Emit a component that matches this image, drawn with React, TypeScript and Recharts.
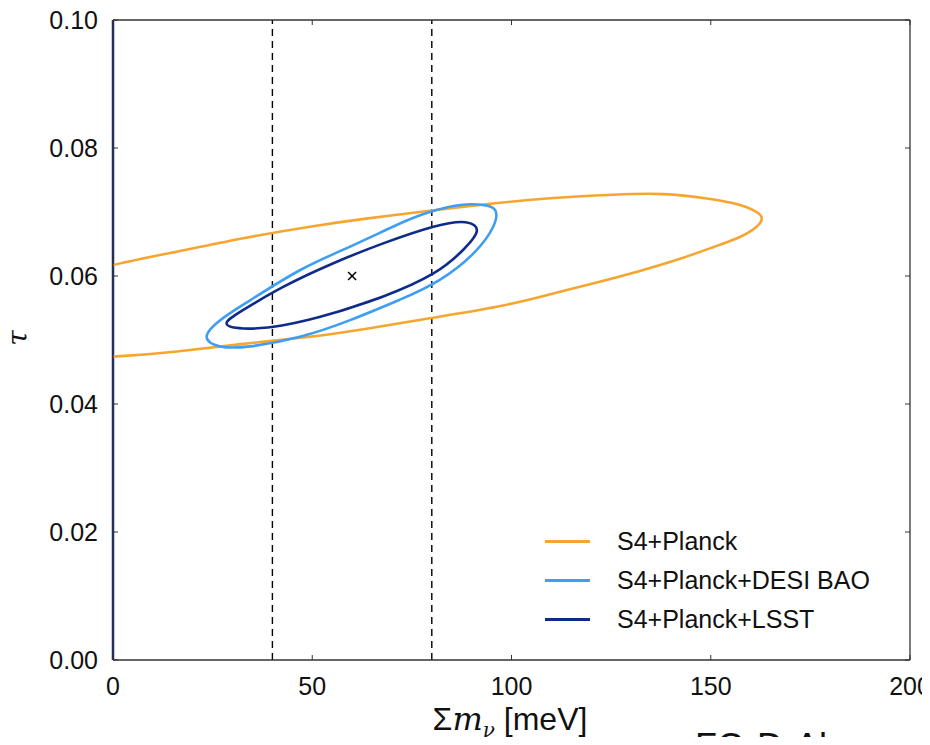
import React from 'react';
import {
    LineChart,
    Line,
    XAxis,
    YAxis,
    Scatter,
    ReferenceLine,
} from 'recharts';

// contour points (x = sum m_nu [meV], y = tau)
// the S4+Planck contour runs past x = 0, the hidden part is clipped by the axis
const S4_PLANCK = [
    { x: -18.1, y: 0.0472 }, { x: -29, y: 0.0479 }, { x: -37.3, y: 0.0489 }, { x: -41.5, y: 0.05 },
    { x: -42.8, y: 0.051 }, { x: -41.5, y: 0.0523 }, { x: -37.3, y: 0.0539 }, { x: -30.6, y: 0.0554 },
    { x: -22.3, y: 0.0573 }, { x: -11, y: 0.0596 }, { x: 0, y: 0.0617 }, { x: 16, y: 0.0638 },
    { x: 32.7, y: 0.0659 }, { x: 49.4, y: 0.0677 }, { x: 64, y: 0.069 }, { x: 79.5, y: 0.0702 },
    { x: 92, y: 0.0711 }, { x: 108.8, y: 0.0721 }, { x: 125.5, y: 0.0727 }, { x: 138.1, y: 0.0728 },
    { x: 149, y: 0.0721 }, { x: 157.3, y: 0.0711 }, { x: 161.5, y: 0.07 }, { x: 162.8, y: 0.069 },
    { x: 161.5, y: 0.0677 }, { x: 157.3, y: 0.0661 }, { x: 150.6, y: 0.0645 }, { x: 142.3, y: 0.0627 },
    { x: 132.2, y: 0.0608 }, { x: 121.4, y: 0.059 }, { x: 108.8, y: 0.057 }, { x: 96.3, y: 0.0552 },
    { x: 79.5, y: 0.0534 }, { x: 64, y: 0.0518 }, { x: 49.4, y: 0.0505 }, { x: 32.7, y: 0.0494 },
    { x: 16, y: 0.0482 }, { x: 0, y: 0.0474 }, { x: -18.1, y: 0.0472 }, { x: -29, y: 0.0479 },
];

const S4_PLANCK_DESI = [
    { x: 59.5, y: 0.0531 }, { x: 72, y: 0.0563 }, { x: 82, y: 0.0594 }, { x: 90.4, y: 0.0635 },
    { x: 95.4, y: 0.0677 }, { x: 95.9, y: 0.0703 }, { x: 92.9, y: 0.0711 }, { x: 87.1, y: 0.0711 },
    { x: 79.5, y: 0.07 }, { x: 72, y: 0.0682 }, { x: 59.5, y: 0.0646 }, { x: 46.9, y: 0.0609 },
    { x: 34.4, y: 0.0562 }, { x: 26.9, y: 0.0531 }, { x: 23.5, y: 0.0505 }, { x: 26.9, y: 0.049 },
    { x: 34.4, y: 0.049 }, { x: 46.9, y: 0.0505 }, { x: 59.5, y: 0.0531 }, { x: 72, y: 0.0563 },
];

const S4_PLANCK_LSST = [
    { x: 55.3, y: 0.0542 }, { x: 67.8, y: 0.0568 }, { x: 80.4, y: 0.0604 }, { x: 87.9, y: 0.0641 },
    { x: 91.3, y: 0.067 }, { x: 88.5, y: 0.0684 }, { x: 80.4, y: 0.0677 }, { x: 67.8, y: 0.0651 },
    { x: 55.3, y: 0.062 }, { x: 42.7, y: 0.0583 }, { x: 32.7, y: 0.0547 }, { x: 28.5, y: 0.0526 },
    { x: 32.7, y: 0.0518 }, { x: 42.7, y: 0.0523 }, { x: 55.3, y: 0.0542 }, { x: 67.8, y: 0.0568 },
];

const FIDUCIAL = [{ x: 60, y: 0.06 }];
const MASS_LINES = [40, 80];
const X_TICKS = [0, 50, 100, 150, 200];
const Y_TICKS = [0, 0.02, 0.04, 0.06, 0.08, 0.1];

const SERIES = [
    { name: 'S4+Planck', data: S4_PLANCK, color: '#F6A630' },
    { name: 'S4+Planck+DESI BAO', data: S4_PLANCK_DESI, color: '#3D9EF2' },
    { name: 'S4+Planck+LSST', data: S4_PLANCK_LSST, color: '#0E2B8A' },
];

const FONT = '"Liberation Sans", Arial, sans-serif';
const tickStyle = { fontSize: 25, fill: '#111', fontFamily: FONT };
const frame = '#333';

const Cross = ({ cx, cy }: any) => (
    <g stroke="#000" strokeWidth={1.5}>
        <line x1={cx - 4} y1={cy - 4} x2={cx + 4} y2={cy + 4} />
        <line x1={cx - 4} y1={cy + 4} x2={cx + 4} y2={cy - 4} />
    </g>
);

// legend is plain html so it takes no room from the plot
const LegendBox = () => (
    <div style={{ position: 'absolute', left: 545, top: 522, fontFamily: FONT, fontSize: 25, color: '#111' }}>
        {SERIES.map((s) => (
            <div key={s.name} style={{ display: 'flex', alignItems: 'center', height: 39 }}>
                <div style={{ width: 45, height: 3, background: s.color, marginRight: 27 }} />
                <span>{s.name}</span>
            </div>
        ))}
    </div>
);

const noLabel = () => <g />;

export default function App() {
    return (
        <div style={{ position: 'relative', width: 930, height: 745, margin: -8, overflow: 'hidden', background: '#fff' }}>
            <LineChart width={930} height={745} margin={{ top: 19, right: 19, bottom: 0, left: 0 }}>
                <XAxis
                    xAxisId="b" type="number" dataKey="x" domain={[0, 200]} ticks={X_TICKS}
                    allowDataOverflow height={85} tickSize={-5} tickMargin={22}
                    tick={tickStyle} stroke={frame} axisLine={{ stroke: frame, strokeWidth: 1.3 }}
                />
                <XAxis
                    xAxisId="t" orientation="top" type="number" dataKey="x" domain={[0, 200]} ticks={X_TICKS}
                    allowDataOverflow height={1} tickSize={-5} tick={noLabel} stroke={frame}
                    axisLine={{ stroke: frame, strokeWidth: 1.3 }}
                />
                <YAxis
                    yAxisId="l" type="number" dataKey="y" domain={[0, 0.1]} ticks={Y_TICKS}
                    allowDataOverflow width={113} tickSize={-5} tickMargin={20}
                    tickFormatter={(v: number) => v.toFixed(2)}
                    tick={tickStyle} stroke={frame} axisLine={{ stroke: frame, strokeWidth: 1.3 }}
                />
                <YAxis
                    yAxisId="r" orientation="right" type="number" dataKey="y" domain={[0, 0.1]} ticks={Y_TICKS}
                    allowDataOverflow width={1} tickSize={-5} tick={noLabel} stroke={frame}
                    axisLine={{ stroke: frame, strokeWidth: 1.3 }}
                />
                {MASS_LINES.map((m) => (
                    <ReferenceLine key={m} xAxisId="b" yAxisId="l" x={m} stroke="#000" strokeWidth={1.4} strokeDasharray="7 5" />
                ))}
                <ReferenceLine xAxisId="b" yAxisId="l" x={0} stroke="#0E2B8A" strokeWidth={2.5} />
                {SERIES.map((s) => (
                    <Line
                        key={s.name} xAxisId="b" yAxisId="l" data={s.data} dataKey="y" name={s.name}
                        type="natural" stroke={s.color} strokeWidth={2.6} dot={false}
                        isAnimationActive={false}
                    />
                ))}
                <Scatter
                    xAxisId="b" yAxisId="l" data={FIDUCIAL} dataKey="y" shape={<Cross />}
                    legendType="none" isAnimationActive={false}
                />
            </LineChart>
            <LegendBox />
            <div style={{ position: 'absolute', left: 10, top: 338, transform: 'translate(0,-50%) rotate(-90deg)', fontFamily: '"DejaVu Serif", serif', fontStyle: 'italic', fontSize: 28, color: '#111' }}>
                τ
            </div>
            <div style={{ position: 'absolute', left: 0, width: 1020, top: 700, textAlign: 'center', fontFamily: FONT, fontSize: 32, color: '#111', lineHeight: 1.2 }}>
                Σ<i style={{ fontFamily: '"DejaVu Serif", serif' }}>m</i>
                <sub style={{ fontSize: 20, fontFamily: '"DejaVu Serif", serif', fontStyle: 'italic' }}>ν</sub> [meV]
            </div>
            <div style={{ position: 'absolute', left: 695, top: 729, fontFamily: FONT, fontSize: 36, color: '#111', lineHeight: 1 }}>
                FO-D-Al
            </div>
        </div>
    );
}
